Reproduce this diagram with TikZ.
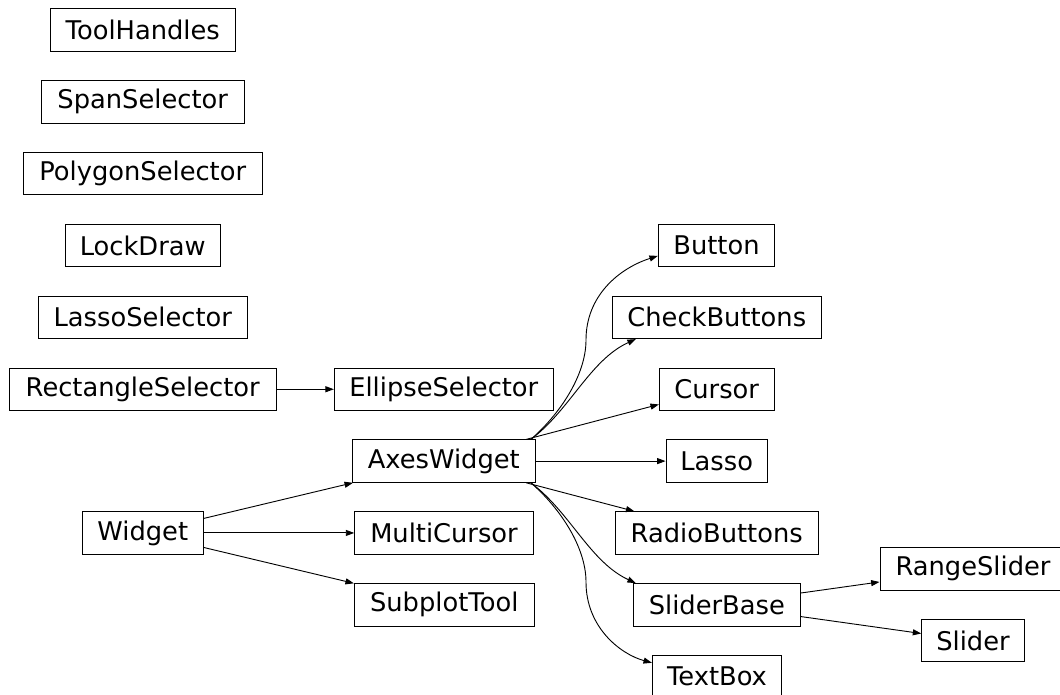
\documentclass[tikz,border=0pt]{standalone}
\usepackage{fontspec}
\setmainfont{DejaVu Sans}
\usepackage{tikz}
\usetikzlibrary{arrows.meta}
\tikzset{
  clsbox/.style={draw=black, line width=0.7pt, inner sep=0pt, minimum height=1.06cm,
    font=\fontsize{18.3pt}{22pt}\selectfont},
  inh/.style={line width=0.65pt, -{Triangle[length=2.1mm,width=1.5mm]}}
}

\begin{document}
\begin{tikzpicture}[x=0.025cm, y=-0.025cm]
\useasboundingbox (0,0) rectangle (1060,695);
% class boxes: name/text/x/row/width
\foreach \nm/\txt/\cx/\r/\w in {
  tools/ToolHandles/142.7/0/185.3, span/SpanSelector/142.7/1/202.7,
  polygon/PolygonSelector/142.7/2/238.7, lock/LockDraw/142.7/3/155.3,
  lassosel/LassoSelector/142.8/4/209, rectsel/RectangleSelector/142.7/5/266.7,
  widget/Widget/142.8/7/121,
  ellipsesel/EllipseSelector/443.8/5/219, axes/AxesWidget/443.8/6/183,
  multicursor/MultiCursor/444/7/178.6, subplot/SubplotTool/444.2/8/179.7,
  button/Button/716.5/3/116.4, checkbuttons/CheckButtons/716.8/4/209,
  cursor/Cursor/716.7/5/114.7, lasso/Lasso/716.7/6/101.3,
  radio/RadioButtons/716.7/7/203.3, sliderbase/SliderBase/716.8/8/167,
  textbox/TextBox/717/9/129.2,
  rangeslider/RangeSlider/973/7.5/186, slider/Slider/973/8.5/102.6}{
  \node[clsbox, minimum width=\w*0.025cm] (\nm) at (\cx,{30+\r*71.85}) {\txt};
}
% straight edges
\foreach \a/\b in {rectsel/ellipsesel, widget/axes, widget/multicursor, widget/subplot,
  axes/cursor, axes/lasso, axes/radio, sliderbase/rangeslider, sliderbase/slider}{
  \draw[inh] (\a) -- (\b);
}
% curved edges
\draw[inh] (axes.14) .. controls (560,414) and (586,375) .. (586,340)
  .. controls (586,295) and (620,268) .. (button.190);
\draw[inh] (axes.14) .. controls (570,410) and (590,360) .. (checkbuttons.195);
\draw[inh] (axes.-14) .. controls (570,512) and (590,562) .. (sliderbase.165);
\draw[inh] (axes.-14) .. controls (560,508) and (586,547) .. (586,582)
  .. controls (586,627) and (620,654) .. (textbox.168);
\end{tikzpicture}
\end{document}
